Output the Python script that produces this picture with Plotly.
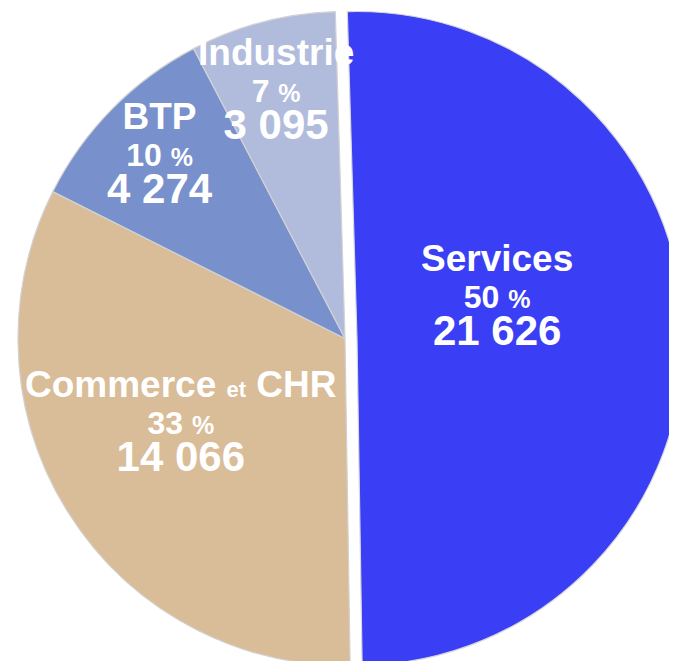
import math
import plotly.graph_objects as go

# Emplois par secteur
labels = ["Services", "Commerce et CHR", "BTP", "Industrie"]
values = [21626, 14066, 4274, 3095]
colors = ["#3a3ff5", "#d9bc98", "#7891cc", "#b1bcdd"]

W, H = 677, 661
ROT = -1.7
total = sum(values)


def fmt_num(v):
    return f"{v:,}".replace(",", " ")


def slice_text(label, v):
    pct = round(v / total * 100)
    name = label.replace(" et ", " <span style='font-size:22px'>et</span> ")
    return (f"<b><span style='font-size:37px'>{name}</span></b>"
            f"<br><b><span style='font-size:32px'>{pct} </span>"
            f"<span style='font-size:25px'>%</span></b>"
            f"<br><b><span style='font-size:42px'>{fmt_num(v)}</span></b>")


# the Services slice is detached to the right; draw it as its own trace so the
# main disc keeps its full size
R = 327
shift = 12
cxB = W - R - 1
cxA = cxB - shift
cy = H / 2
domA = [(cxA - R) / W, (cxA + R) / W]
domB = [(cxB - R) / W, (cxB + R) / W]
domY = [(cy - R) / H, (cy + R) / H]

fig = go.Figure()
fig.add_trace(go.Pie(
    labels=labels, values=values, sort=False, direction="clockwise", rotation=ROT,
    marker=dict(colors=["rgba(0,0,0,0)"] + colors[1:],
                line=dict(color="#d2d2d2", width=[0, 1.2, 1.2, 1.2])),
    textinfo="none", domain=dict(x=domA, y=domY), showlegend=False,
    hoverinfo="label+value+percent",
))
fig.add_trace(go.Pie(
    labels=[labels[0], "autres"], values=[values[0], total - values[0]],
    sort=False, direction="clockwise", rotation=ROT,
    marker=dict(colors=[colors[0], "rgba(0,0,0,0)"],
                line=dict(color="#d8d8d8", width=[1.2, 0])),
    textinfo="none", domain=dict(x=domB, y=domY), showlegend=False,
    hoverinfo="skip",
))

# slice labels: placed along each slice's mid-angle
label_r = [0.46, 0.56, 0.77, 0.76]
label_dang = [-12, 2, 0, 0]
start = ROT
for i, (lab, v) in enumerate(zip(labels, values)):
    span = v / total * 360
    ang = math.radians(start + span / 2 + label_dang[i])
    start += span
    cx = cxB if i == 0 else cxA
    px = cx + label_r[i] * R * math.sin(ang)
    py = cy - label_r[i] * R * math.cos(ang)
    fig.add_annotation(
        x=px / W, y=1 - py / H, xref="paper", yref="paper",
        text=slice_text(lab, v), showarrow=False, xanchor="center", yanchor="middle",
        xshift=-6, yshift=8,
        font=dict(family="Liberation Sans, Arial", size=28.5, color="white"),
    )

fig.update_layout(
    width=W, height=H, margin=dict(l=0, r=0, t=0, b=0),
    paper_bgcolor="white", plot_bgcolor="white",
)
fig.write_html("out.html")
